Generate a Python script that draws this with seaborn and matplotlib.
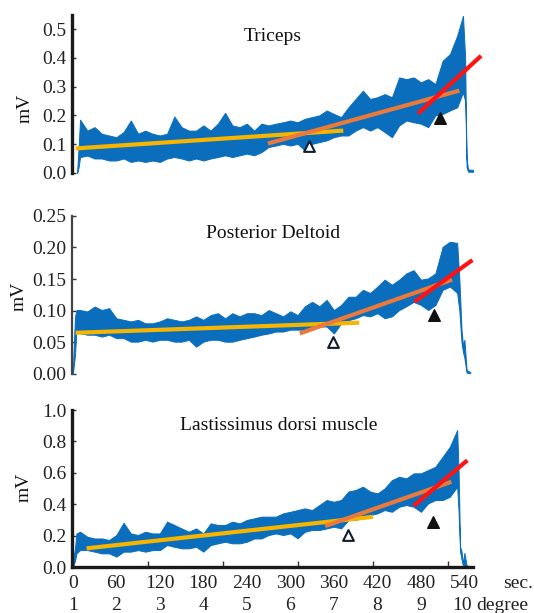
import matplotlib
matplotlib.use("Agg")
import matplotlib.pyplot as plt
import seaborn as sns
import pandas as pd

sns.set_theme(style="white")
plt.rcParams['font.family'] = ['Liberation Serif', 'DejaVu Serif']

# ---- EMG envelopes (sec, upper mV, lower mV) ----
tri_t = [6, 8, 10, 20, 30, 40, 50, 60, 70, 80, 90, 100, 110, 120, 130, 140, 150, 160, 170, 180,
         190, 200, 210, 220, 230, 240, 250, 260, 270, 280, 290, 300, 310, 320, 330, 340, 350, 360,
         370, 380, 390, 400, 410, 420, 430, 440, 450, 460, 470, 480, 490, 500, 510, 520, 530, 538,
         541, 542, 543, 545, 553]
tri_hi = [0.005, 0.09, 0.185, 0.147, 0.159, 0.136, 0.130, 0.124, 0.142, 0.182, 0.136, 0.147, 0.136,
          0.130, 0.136, 0.196, 0.159, 0.147, 0.147, 0.165, 0.147, 0.171, 0.209, 0.165, 0.159, 0.171,
          0.147, 0.171, 0.165, 0.171, 0.176, 0.182, 0.176, 0.188, 0.194, 0.200, 0.217, 0.205, 0.194,
          0.228, 0.257, 0.286, 0.257, 0.263, 0.274, 0.263, 0.332, 0.326, 0.332, 0.315, 0.326, 0.309,
          0.390, 0.413, 0.477, 0.546, 0.40, 0.20, 0.05, 0.012, 0.010]
tri_lo = [0.0, 0.02, 0.055, 0.060, 0.050, 0.050, 0.043, 0.043, 0.050, 0.038, 0.043, 0.038, 0.043,
          0.038, 0.050, 0.055, 0.050, 0.043, 0.050, 0.043, 0.050, 0.055, 0.061, 0.055, 0.061, 0.067,
          0.061, 0.072, 0.090, 0.095, 0.101, 0.095, 0.101, 0.078, 0.101, 0.107, 0.113, 0.124, 0.130,
          0.130, 0.147, 0.159, 0.147, 0.159, 0.142, 0.124, 0.165, 0.182, 0.176, 0.171, 0.159, 0.200,
          0.205, 0.217, 0.228, 0.28, 0.25, 0.15, 0.02, 0.004, 0.004]

del_t = [0, 3, 5, 10, 20, 30, 40, 50, 60, 70, 80, 90, 100, 110, 120, 130, 140, 150, 160, 170, 180,
         190, 200, 210, 220, 230, 240, 250, 260, 270, 280, 290, 300, 310, 320, 330, 340, 350, 360,
         370, 380, 390, 400, 410, 420, 430, 440, 450, 460, 470, 480, 490, 500, 510, 520, 530, 533,
         536, 538, 540, 543, 548]
del_hi = [0.005, 0.09, 0.101, 0.101, 0.0987, 0.1065, 0.101, 0.104, 0.088, 0.0855, 0.083, 0.0855,
          0.080, 0.080, 0.083, 0.088, 0.0855, 0.083, 0.0855, 0.091, 0.0855, 0.093, 0.096, 0.088,
          0.096, 0.091, 0.096, 0.096, 0.093, 0.101, 0.096, 0.091, 0.099, 0.093, 0.107, 0.114, 0.107,
          0.117, 0.101, 0.109, 0.122, 0.122, 0.133, 0.128, 0.138, 0.149, 0.141, 0.149, 0.159, 0.164,
          0.149, 0.151, 0.159, 0.201, 0.209, 0.207, 0.15, 0.07, 0.045, 0.054, 0.006, 0.003]
del_lo = [0.0, 0.03, 0.0696, 0.0644, 0.062, 0.062, 0.059, 0.062, 0.0565, 0.0565, 0.051, 0.051,
          0.054, 0.051, 0.054, 0.054, 0.051, 0.051, 0.054, 0.043, 0.051, 0.054, 0.054, 0.051, 0.051,
          0.054, 0.0565, 0.059, 0.062, 0.064, 0.067, 0.067, 0.070, 0.070, 0.070, 0.072, 0.075, 0.075,
          0.064, 0.080, 0.085, 0.088, 0.093, 0.091, 0.096, 0.088, 0.091, 0.101, 0.107, 0.114, 0.109,
          0.101, 0.109, 0.133, 0.138, 0.128, 0.10, 0.05, 0.035, 0.025, 0.002, 0.001]

lat_t = [0, 3, 5, 10, 20, 30, 40, 50, 60, 70, 80, 90, 100, 110, 120, 130, 140, 150, 160, 170, 180,
         190, 200, 210, 220, 230, 240, 250, 260, 270, 280, 290, 300, 310, 320, 330, 340, 350, 360,
         370, 380, 390, 400, 410, 420, 430, 440, 450, 460, 470, 480, 490, 500, 510, 520, 530, 532,
         534, 536, 538, 540, 543, 548]
lat_hi = [0.03, 0.12, 0.214, 0.225, 0.193, 0.182, 0.182, 0.172, 0.204, 0.282, 0.214, 0.204, 0.225,
          0.214, 0.214, 0.289, 0.268, 0.246, 0.225, 0.246, 0.214, 0.278, 0.268, 0.268, 0.289, 0.278,
          0.300, 0.310, 0.321, 0.321, 0.321, 0.342, 0.352, 0.363, 0.374, 0.363, 0.395, 0.427, 0.416,
          0.427, 0.481, 0.491, 0.512, 0.481, 0.469, 0.501, 0.554, 0.575, 0.565, 0.597, 0.597, 0.618,
          0.639, 0.703, 0.767, 0.873, 0.60, 0.13, 0.10, 0.02, 0.09, 0.01, 0.005]
lat_lo = [0.0, 0.04, 0.087, 0.108, 0.108, 0.098, 0.087, 0.087, 0.066, 0.098, 0.098, 0.108, 0.098,
          0.108, 0.108, 0.140, 0.129, 0.119, 0.119, 0.129, 0.098, 0.140, 0.151, 0.161, 0.151, 0.151,
          0.161, 0.182, 0.182, 0.204, 0.214, 0.204, 0.214, 0.183, 0.225, 0.236, 0.236, 0.246, 0.257,
          0.246, 0.299, 0.299, 0.321, 0.331, 0.342, 0.363, 0.352, 0.384, 0.395, 0.384, 0.352, 0.406,
          0.427, 0.427, 0.448, 0.512, 0.35, 0.10, 0.05, 0.01, 0.01, 0.003, 0.002]

# ---- fitted regression segments (start/end sec, start/end mV) ----
tri_fits = {"yellow": ([4, 373], [0.085, 0.147]),
            "orange": ([269, 533], [0.102, 0.286]),
            "red": ([476, 563], [0.206, 0.407])}
del_fits = {"yellow": ([4, 395], [0.065, 0.081]),
            "orange": ([313, 523], [0.064, 0.149]),
            "red": ([471, 551], [0.114, 0.180])}
lat_fits = {"yellow": ([19, 414], [0.119, 0.320]),
            "orange": ([348, 522], [0.261, 0.543]),
            "red": ([470, 544], [0.390, 0.680])}

# ---- triangle markers (open, filled) ----
tri_marks = ([325, 507], [0.092, 0.192])
del_marks = ([359, 498], [0.051, 0.093])
lat_marks = ([380, 497], [0.204, 0.285])

titles = ["Triceps", "Posterior Deltoid", "Lastissimus dorsi muscle"]
yticks = [[0.0, 0.1, 0.2, 0.3, 0.4, 0.5],
          [0.0, 0.05, 0.10, 0.15, 0.20, 0.25],
          [0.0, 0.2, 0.4, 0.6, 0.8, 1.0]]
ytick_labels = [["0.0", "0.1", "0.2", "0.3", "0.4", "0.5"],
                ["0.00", "0.05", "0.10", "0.15", "0.20", "0.25"],
                ["0.0", "0.2", "0.4", "0.6", "0.8", "1.0"]]
ylims = [(0, 0.55), (0, 0.25), (0, 1.0)]
sec_ticks = [0, 60, 120, 180, 240, 300, 360, 420, 480, 540]
degree_labels = ["1", "2", "3", "4", "5", "6", "7", "8", "9", "10"]
frame_ticks = [103.6, 207.1, 310.7, 414.3, 517.9]

BLUE = "#0A6EBD"
fit_colors = {"yellow": "#F7B500", "orange": "#EA7A3C", "red": "#FF1212"}

fig = plt.figure(figsize=(5.34, 6.13), dpi=100)
boxes = [[0.135, 0.718, 0.751, 0.258],
         [0.135, 0.390, 0.751, 0.258],
         [0.135, 0.075, 0.751, 0.256]]
signals = [(tri_t, tri_hi, tri_lo), (del_t, del_hi, del_lo), (lat_t, lat_hi, lat_lo)]
fits = [tri_fits, del_fits, lat_fits]
marks = [tri_marks, del_marks, lat_marks]
title_pos = [(0.499, 0.86), (0.50, 0.886), (0.514, 0.904)]
mv_pos = [(-0.117, 0.41), (-0.132, 0.49), (-0.12, 0.51)]
spine_w = [2.4, 1.6, 2.4]
spine_c = ["#1a1a1a", "#444444", "#1a1a1a"]

for i in range(3):
    ax = fig.add_axes(boxes[i])
    t, hi, lo = signals[i]
    ax.fill_between(t, lo, hi, color=BLUE, linewidth=0.7, edgecolor=BLUE, zorder=1)

    for name in ["yellow", "orange", "red"]:
        xs, ys = fits[i][name]
        d = pd.DataFrame({"sec": xs, "mV": ys})
        sns.lineplot(data=d, x="sec", y="mV", ax=ax, color=fit_colors[name],
                     linewidth=3.0, zorder=3, clip_on=False, solid_capstyle="butt")

    mx, my = marks[i]
    sns.scatterplot(x=[mx[0]], y=[my[0]], ax=ax, marker="^", s=60, color="white",
                    edgecolor="#0f1f2c", linewidth=1.5, zorder=5)
    sns.scatterplot(x=[mx[1]], y=[my[1]], ax=ax, marker="^", s=70, color="#111111",
                    edgecolor="#111111", linewidth=1, zorder=5)

    ax.set_xlim(-1, 552)
    ax.set_ylim(*ylims[i])
    ax.set_yticks(yticks[i])
    ax.set_yticklabels(ytick_labels[i])
    ax.set_xlabel("")
    ax.set_ylabel("")
    for s in ["top", "right"]:
        ax.spines[s].set_visible(False)
    ax.spines["left"].set_linewidth(spine_w[i])
    ax.spines["left"].set_color(spine_c[i])
    ax.tick_params(axis="y", direction="in", length=3, width=1, color="#333333",
                   labelsize=14, labelcolor="#222222", pad=4, left=True)
    ax.text(title_pos[i][0], title_pos[i][1], titles[i], transform=ax.transAxes,
            ha="center", va="center", fontsize=14, color="#111111")
    ax.text(mv_pos[i][0], mv_pos[i][1], "mV", transform=ax.transAxes, rotation=90,
            ha="center", va="center", fontsize=14, color="#111111")

    if i < 2:
        ax.spines["bottom"].set_visible(False)
        ax.set_xticks([])
    else:
        ax.spines["bottom"].set_linewidth(spine_w[i])
        ax.spines["bottom"].set_color(spine_c[i])
        ax.set_xticks(sec_ticks)
        ax.set_xticklabels([str(v) for v in sec_ticks])
        ax.set_xticks(frame_ticks, minor=True)
        ax.tick_params(axis="x", which="major", length=0, labelsize=14,
                       labelcolor="#222222", pad=5.5, bottom=True)
        ax.tick_params(axis="x", which="minor", direction="in", length=4, width=1,
                       color="#333333", bottom=True)
        tr = ax.get_xaxis_transform()
        for v, lab in zip(sec_ticks, degree_labels):
            ax.text(v - (3 if lab == "10" else 0), -0.272, lab, transform=tr,
                    ha="center", va="baseline", fontsize=14, color="#222222")
        ax.text(594, -0.134, "sec.", transform=tr, ha="left", va="baseline",
                fontsize=14, color="#222222")
        ax.text(556, -0.272, "degree", transform=tr, ha="left", va="baseline",
                fontsize=14, color="#222222")

fig.savefig("out.png", dpi=100)
